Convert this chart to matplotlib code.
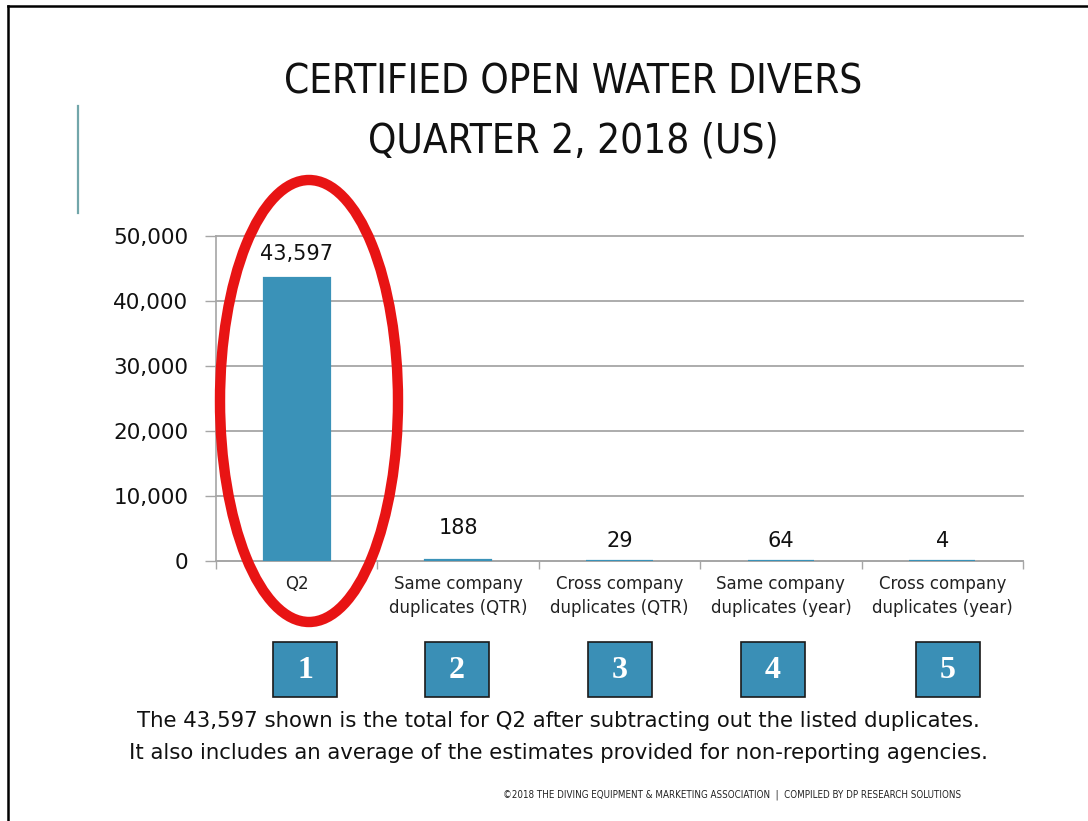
import matplotlib
matplotlib.use('Agg')
import matplotlib.pyplot as plt
from matplotlib import font_manager
from matplotlib.patches import Ellipse, Rectangle
from matplotlib.lines import Line2D
import matplotlib.ticker as mticker

# ── Data ──────────────────────────────────────────────────────────────────────
categories = ['Q2',
              'Same company\nduplicates (QTR)',
              'Cross company\nduplicates (QTR)',
              'Same company\nduplicates (year)',
              'Cross company\nduplicates (year)']
values     = [43597, 188, 29, 64, 4]
box_labels = ['1', '2', '3', '4', '5']
y_ticks    = [0, 10000, 20000, 30000, 40000, 50000]

TITLE = 'CERTIFIED OPEN WATER DIVERS\nQUARTER 2, 2018 (US)'
NOTE1 = 'The 43,597 shown is the total for Q2 after subtracting out the listed duplicates.'
NOTE2 = 'It also includes an average of the estimates provided for non-reporting agencies.'
CREDIT = '\u00a92018 THE DIVING EQUIPMENT & MARKETING ASSOCIATION  |  COMPILED BY DP RESEARCH SOLUTIONS'

# ── Style ─────────────────────────────────────────────────────────────────────
BAR_COLOR  = '#3a92b8'
BOX_COLOR  = '#3a8fb6'
RED        = '#e81414'
GRID_COLOR = '#a6a6a6'
TEAL_LINE  = '#72a6aa'

W, H = 1088, 821
names = {f.name for f in font_manager.fontManager.ttflist}
if 'Liberation Sans Narrow' in names:
    TITLE_FONT = dict(family='Liberation Sans Narrow')
else:
    TITLE_FONT = dict(family='DejaVu Sans', stretch='condensed')

def fx(px):
    return px / W

def fy(py):
    return 1 - py / H

fig = plt.figure(figsize=(W / 100, H / 100), dpi=100, facecolor='white')

# slide frame + accent line
fig.add_artist(Line2D([fx(8), fx(8)], [fy(6), 0], color='black', lw=1.8, transform=fig.transFigure))
fig.add_artist(Line2D([fx(8), 1], [fy(6), fy(6)], color='black', lw=1.8, transform=fig.transFigure))
fig.add_artist(Line2D([fx(78), fx(78)], [fy(106), fy(213)], color=TEAL_LINE, lw=1.6, transform=fig.transFigure))

# title
fig.text(fx(573), fy(112), TITLE, ha='center', va='center', fontsize=29,
         linespacing=1.6, color='#111111', **TITLE_FONT)

# ── Chart ─────────────────────────────────────────────────────────────────────
ax = fig.add_axes([fx(216), fy(561), fx(1023) - fx(216), fy(236) - fy(561)])
x = range(len(categories))
bars = ax.bar(x, values, width=0.41, color=BAR_COLOR, edgecolor=BAR_COLOR, lw=1.6, zorder=3)
ax.set_xlim(-0.5, len(categories) - 0.5)
ax.set_ylim(0, 50000)
ax.set_yticks(y_ticks)
ax.yaxis.set_major_formatter(mticker.StrMethodFormatter('{x:,.0f}'))
ax.tick_params(axis='y', length=8, width=1, color=GRID_COLOR, pad=12, labelsize=15.5,
               labelcolor='#111111')
ax.set_xticks(list(x))
ax.set_xticklabels(categories, fontsize=12, linespacing=1.45, color='#222222')
ax.tick_params(axis='x', which='major', length=0, pad=10)
ax.set_xticks([i - 0.5 for i in range(len(categories) + 1)], minor=True)
ax.tick_params(axis='x', which='minor', length=6, width=1, color=GRID_COLOR)
ax.grid(axis='y', color=GRID_COLOR, lw=1.3, zorder=0)
for gl in ax.get_ygridlines():
    gl.set_clip_on(False)
for s in ['top', 'right']:
    ax.spines[s].set_visible(False)
for s in ['left', 'bottom']:
    ax.spines[s].set_color(GRID_COLOR)
    ax.spines[s].set_linewidth(1.2)

label_offsets = [10, 16, 7, 7, 7]
for xi, v, off in zip(x, values, label_offsets):
    ax.annotate(f'{v:,}', (xi, v), xytext=(0, off), textcoords='offset points',
                ha='center', va='bottom', fontsize=15, color='#111111')

# red ellipse around Q2
fig.add_artist(Ellipse((fx(309), fy(401)), fx(178), 442 / H, fill=False,
                       edgecolor=RED, lw=7.5, transform=fig.transFigure, zorder=5))

# numbered boxes
box_x = [305, 457, 620, 773, 948]
for bx, lab in zip(box_x, box_labels):
    fig.add_artist(Rectangle((fx(bx - 32), fy(697)), fx(64), 55 / H, facecolor=BOX_COLOR,
                             edgecolor='#1a1a1a', lw=1.2, transform=fig.transFigure))
    fig.text(fx(bx), fy(670), lab, ha='center', va='center', color='white',
             fontsize=23, fontweight='bold', family='Liberation Serif')

# notes
fig.text(fx(558), fy(721), NOTE1, ha='center', va='center', fontsize=15.3, color='#111111')
fig.text(fx(558), fy(753), NOTE2, ha='center', va='center', fontsize=15.3, color='#111111')
fig.text(fx(732), fy(795), CREDIT, ha='center', va='center', fontsize=7, color='#222222',
         **TITLE_FONT)

plt.savefig('out.png', dpi=100, facecolor='white')
plt.close()
